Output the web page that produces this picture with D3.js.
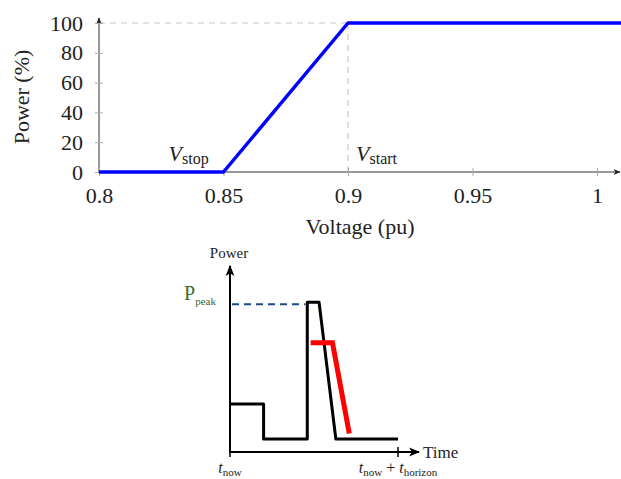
<!DOCTYPE html>
<html>
<head>
<meta charset="utf-8">
<script src="https://cdn.jsdelivr.net/npm/d3@7"></script>
<style>
  body { margin: 0; background: #fff; }
  svg { display: block; font-family: "Liberation Serif", "DejaVu Serif", serif; }
</style>
</head>
<body>
<div id="chart"></div>
<script>
// top chart: power vs voltage curve
var voltage = [0.8, 0.85, 0.9, 1.01];
var power = [0, 0, 100, 100];
var xTicks = [0.8, 0.85, 0.9, 0.95, 1];
var yTicks = [0, 20, 40, 60, 80, 100];
var vStop = 0.85, vStart = 0.9;

// bottom sketch: power over the horizon (arbitrary units)
var loadTime = [0, 2, 2, 4.6, 4.6, 5.3, 6.3, 10];
var loadPower = [26, 26, 7, 7, 81, 81, 7, 7];
var shavedTime = [4.8, 6.1, 7.1];
var shavedPower = [59, 59, 10];
var peakPower = 81;
var horizon = 10;

var width = 621, height = 479;
var fontSize = 22;
var svg = d3.select("#chart").append("svg")
  .attr("width", width).attr("height", height);

var defs = svg.append("defs");
function arrow(id, colour, size) {
  defs.append("marker")
    .attr("id", id)
    .attr("viewBox", "0 0 10 10")
    .attr("refX", 9).attr("refY", 5)
    .attr("markerWidth", size).attr("markerHeight", size)
    .attr("markerUnits", "userSpaceOnUse")
    .attr("orient", "auto")
    .append("path")
    .attr("d", "M0,1 L10,5 L0,9 L2.5,5 Z")
    .attr("fill", colour);
}
arrow("arrTop", "#222", 7);
arrow("arrBot", "#000", 11);

// ---------- top chart ----------
var x = d3.scaleLinear().domain([0.8, 1]).range([99, 597]);
var y = d3.scaleLinear().domain([0, 100]).range([172, 23]);

var upper = svg.append("g");

// guide lines
upper.append("line")
  .attr("x1", x(0.8)).attr("x2", x(vStart))
  .attr("y1", y(100)).attr("y2", y(100))
  .attr("stroke", "#c8c8c8").attr("stroke-width", 1.2)
  .attr("stroke-dasharray", "6,5");
upper.append("line")
  .attr("x1", x(vStart)).attr("x2", x(vStart))
  .attr("y1", y(100)).attr("y2", y(0))
  .attr("stroke", "#c8c8c8").attr("stroke-width", 1.2)
  .attr("stroke-dasharray", "6,5");

// axes with arrows
upper.append("line")
  .attr("x1", x(0.8)).attr("x2", 620)
  .attr("y1", y(0)).attr("y2", y(0))
  .attr("stroke", "#333").attr("stroke-width", 1)
  .attr("marker-end", "url(#arrTop)");
upper.append("line")
  .attr("x1", x(0.8)).attr("x2", x(0.8))
  .attr("y1", y(0)).attr("y2", 18)
  .attr("stroke", "#333").attr("stroke-width", 1)
  .attr("marker-end", "url(#arrTop)");

var xAxis = d3.axisBottom(x).tickValues(xTicks)
  .tickSize(4).tickPadding(11).tickFormat(d3.format("~g"));
var gx = upper.append("g").attr("transform", "translate(0," + y(0) + ")").call(xAxis);
gx.select(".domain").remove();
gx.selectAll(".tick line").attr("stroke", "#aaa").attr("y1", -4);
gx.selectAll(".tick text").attr("font-size", fontSize).attr("fill", "#222")
  .attr("font-family", "Liberation Serif, serif");

var yAxis = d3.axisLeft(y).tickValues(yTicks).tickSize(4).tickPadding(12);
var gy = upper.append("g").attr("transform", "translate(" + x(0.8) + ",0)").call(yAxis);
gy.select(".domain").remove();
gy.selectAll(".tick line").attr("stroke", "#aaa").attr("x1", 4);
gy.selectAll(".tick text").attr("font-size", fontSize).attr("fill", "#222")
  .attr("font-family", "Liberation Serif, serif");

// curve
var curve = d3.line()
  .x(function(d) { return x(d[0]); })
  .y(function(d) { return y(d[1]); });
upper.append("path")
  .datum(d3.zip(voltage, power))
  .attr("d", curve)
  .attr("fill", "none")
  .attr("stroke", "#0000ff")
  .attr("stroke-width", 3.5)
  .attr("stroke-linejoin", "round");

// labels
upper.append("text")
  .attr("transform", "translate(29,97) rotate(-90)")
  .attr("text-anchor", "middle")
  .attr("font-size", fontSize).attr("fill", "#222")
  .text("Power (%)");
upper.append("text")
  .attr("x", 360).attr("y", 234)
  .attr("text-anchor", "middle")
  .attr("font-size", fontSize).attr("fill", "#222")
  .text("Voltage (pu)");

function vLabel(xPos, sub) {
  var t = upper.append("text").attr("x", xPos).attr("y", 161)
    .attr("font-size", fontSize).attr("fill", "#222");
  t.append("tspan").attr("font-style", "italic").text("V");
  t.append("tspan").attr("font-size", 16).attr("dy", 3).text(sub);
}
vLabel(x(vStop) - 55, "stop");
vLabel(x(vStart) + 8, "start");

// ---------- bottom sketch ----------
var tx = d3.scaleLinear().domain([0, horizon]).range([230, 398]);
var py = d3.scaleLinear().domain([0, 100]).range([452, 267]);

var lower = svg.append("g");

lower.append("line")
  .attr("x1", tx(0)).attr("x2", tx(0))
  .attr("y1", py(0) + 1).attr("y2", 266)
  .attr("stroke", "#000").attr("stroke-width", 2)
  .attr("marker-end", "url(#arrBot)");
lower.append("line")
  .attr("x1", tx(0) - 1).attr("x2", 419)
  .attr("y1", py(0)).attr("y2", py(0))
  .attr("stroke", "#000").attr("stroke-width", 2)
  .attr("marker-end", "url(#arrBot)");
lower.append("line")
  .attr("x1", tx(horizon)).attr("x2", tx(horizon))
  .attr("y1", py(0) - 5).attr("y2", py(0) + 5)
  .attr("stroke", "#000").attr("stroke-width", 1.5);
lower.append("line")
  .attr("x1", tx(0)).attr("x2", tx(0))
  .attr("y1", py(0)).attr("y2", py(0) + 5)
  .attr("stroke", "#000").attr("stroke-width", 1.5);

// peak guide
lower.append("line")
  .attr("x1", tx(0) + 2).attr("x2", tx(4.6) - 2)
  .attr("y1", py(peakPower) + 2).attr("y2", py(peakPower) + 2)
  .attr("stroke", "#1f4a8a").attr("stroke-width", 2)
  .attr("stroke-dasharray", "7,5");

var sketch = d3.line()
  .x(function(d) { return tx(d[0]); })
  .y(function(d) { return py(d[1]); });
lower.append("path")
  .datum(d3.zip(loadTime, loadPower))
  .attr("d", sketch)
  .attr("fill", "none").attr("stroke", "#000")
  .attr("stroke-width", 3).attr("stroke-linejoin", "round");
lower.append("path")
  .datum(d3.zip(shavedTime, shavedPower))
  .attr("d", sketch)
  .attr("fill", "none").attr("stroke", "#ff0000")
  .attr("stroke-width", 5).attr("stroke-linejoin", "miter");

lower.append("text").attr("x", 229).attr("y", 258)
  .attr("text-anchor", "middle").attr("font-size", 15).attr("fill", "#222")
  .text("Power");
lower.append("text").attr("x", 423).attr("y", 458)
  .attr("font-size", 17).attr("fill", "#222")
  .text("Time");

var pp = lower.append("text").attr("x", 184).attr("y", 300)
  .attr("font-size", 20).attr("fill", "#3c6a2c");
pp.append("tspan").text("P");
pp.append("tspan").attr("font-size", 11).attr("dy", 5).text("peak");

var t0 = lower.append("text").attr("x", tx(0)).attr("y", 473)
  .attr("text-anchor", "middle").attr("font-size", 16).attr("fill", "#222");
t0.append("tspan").attr("font-style", "italic").text("t");
t0.append("tspan").attr("font-size", 11).attr("dy", 3).text("now");

var t1 = lower.append("text").attr("x", tx(horizon)).attr("y", 473)
  .attr("text-anchor", "middle").attr("font-size", 16).attr("fill", "#222");
t1.append("tspan").attr("font-style", "italic").text("t");
t1.append("tspan").attr("font-size", 11).attr("dy", 3).text("now");
t1.append("tspan").attr("dy", -3).text(" + ");
t1.append("tspan").attr("font-style", "italic").text("t");
t1.append("tspan").attr("font-size", 11).attr("dy", 3).text("horizon");
</script>
</body>
</html>
